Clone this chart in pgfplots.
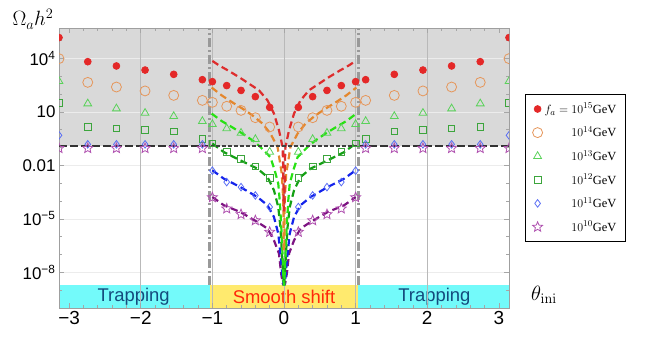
\documentclass[border=0pt]{standalone}
\usepackage{pgfplots}
\pgfplotsset{compat=1.18}
\usepackage{pgfplotstable}
\usepackage[no-math]{fontspec}
\setmainfont{Liberation Sans}
\newfontfamily\seriffont{Liberation Serif}

\definecolor{cRed}{RGB}{222,45,45}
\definecolor{cRedM}{RGB}{228,40,40}
\definecolor{cOr}{RGB}{228,135,45}
\definecolor{cOrM}{RGB}{230,150,90}
\definecolor{cLg}{RGB}{40,225,20}
\definecolor{cLgM}{RGB}{90,210,90}
\definecolor{cDg}{RGB}{20,160,20}
\definecolor{cDgM}{RGB}{60,165,60}
\definecolor{cBl}{RGB}{20,35,235}
\definecolor{cBlM}{RGB}{90,110,245}
\definecolor{cPu}{RGB}{125,20,130}
\definecolor{cPuM}{RGB}{175,80,175}
\definecolor{cShade}{RGB}{217,217,217}
\definecolor{trapc}{RGB}{115,250,250}
\definecolor{smoothc}{RGB}{255,234,110}
\definecolor{traptext}{RGB}{20,75,125}
\definecolor{smoothtext}{RGB}{255,40,10}

% open five-pointed star
\pgfdeclareplotmark{ostar}{%
  \pgfpathmoveto{\pgfqpointpolar{90}{\pgfplotmarksize}}%
  \pgfpathlineto{\pgfqpointpolar{126}{0.45\pgfplotmarksize}}%
  \pgfpathlineto{\pgfqpointpolar{162}{\pgfplotmarksize}}%
  \pgfpathlineto{\pgfqpointpolar{198}{0.45\pgfplotmarksize}}%
  \pgfpathlineto{\pgfqpointpolar{234}{\pgfplotmarksize}}%
  \pgfpathlineto{\pgfqpointpolar{270}{0.45\pgfplotmarksize}}%
  \pgfpathlineto{\pgfqpointpolar{306}{\pgfplotmarksize}}%
  \pgfpathlineto{\pgfqpointpolar{342}{0.45\pgfplotmarksize}}%
  \pgfpathlineto{\pgfqpointpolar{18}{\pgfplotmarksize}}%
  \pgfpathlineto{\pgfqpointpolar{54}{0.45\pgfplotmarksize}}%
  \pgfpathclose
  \pgfusepathqstroke
}

% markers: theta_ini, f_a = 1e15 ... 1e10 GeV
\pgfplotstableread{
x       red     orange  lg      dg      bl      pu
-3.1416 1.45e5  9550    513     32.4    0.479   0.09
-2.74   6460    447     28.8    1.41    0.15    0.09
-2.34   3720    245     15.1    1.15    0.15    0.09
-1.94   2190    148     8.51    0.955   0.15    0.09
-1.54   1260    83.2    5.62    0.813   0.15    0.09
-1.14   631     43.7    2.95    0.295   0.15    0.09
-1.0    490     33.9    2.0     0.166   5.0e-3  1.58e-4
-0.8    295     20.4    1.15    0.055   1.15e-3 3.72e-5
-0.6    158     12.0    0.646   0.0234  6.0e-4  1.78e-5
-0.4    70.8    4.68    0.288   0.0087  2.04e-4 8.1e-6
-0.2    17.8    1.41    0.0562  0.00204 4.57e-5 1.82e-6
0.2     17.8    1.41    0.0562  0.00204 4.57e-5 1.82e-6
0.4     70.8    4.68    0.288   0.0087  2.04e-4 8.1e-6
0.6     158     12.0    0.646   0.0234  6.0e-4  1.78e-5
0.8     295     20.4    1.15    0.055   1.15e-3 3.72e-5
1.0     490     33.9    2.0     0.166   5.0e-3  1.58e-4
1.14    631     43.7    2.95    0.295   0.15    0.09
1.54    1260    83.2    5.62    0.813   0.15    0.09
1.94    2190    148     8.51    0.955   0.15    0.09
2.34    3720    245     15.1    1.15    0.15    0.09
2.74    6460    447     28.8    1.41    0.15    0.09
3.1416  1.45e5  9550    513     32.4    0.479   0.09
}\marks

\begin{document}
\begin{tikzpicture}
\begin{axis}[
    set layers,
    scale only axis, width=450bp, height=280bp,
    ymode=log,
    xmin=-3.1416, xmax=3.1416, ymin=1e-10, ymax=5e5,
    xtick={-3,-2,-1,0,1,2,3},
    xticklabels={−3,−2,−1,0,1,2,3},
    minor x tick num=4,
    ytick={1e-8,1e-5,1e-2,1e1,1e4},
    yticklabels={10\textsuperscript{−8},10\textsuperscript{−5},0.01,10,10\textsuperscript{4}},
    minor ytick={1e-10,1e-9,1e-7,1e-6,1e-4,1e-3,1e-1,1,1e2,1e3,1e5},
    tick align=inside,
    major tick length=5bp, minor tick length=3bp,
    every tick/.style={gray!70, line width=0.6bp},
    axis line style={gray!75, line width=0.8bp},
    ymajorgrids, major y grid style={gray!15, line width=0.6bp},
    x tick label style={font=\fontsize{19}{22}\selectfont},
    y tick label style={font=\fontsize{17}{20}\selectfont},
    clip marker paths=true,
    legend style={at={(1,0.5)}, anchor=west, xshift=16bp, draw=black,
        line width=1.2bp, font=\seriffont\fontsize{12.5}{15}\selectfont,
        row sep=8bp, inner xsep=7bp, inner ysep=7bp},
    legend cell align=right,
]
% shaded region above 0.12 and the bands
\begin{pgfonlayer}{axis background}
\fill[cShade] (axis cs:-3.1416,0.12) rectangle (axis cs:3.1416,5e5);
\fill[trapc] (axis cs:-3.1416,1e-10) rectangle (axis cs:-1.04,2e-9);
\fill[smoothc] (axis cs:-1.04,1e-10) rectangle (axis cs:1.04,2e-9);
\fill[trapc] (axis cs:1.04,1e-10) rectangle (axis cs:3.1416,2e-9);
\node[traptext, font=\fontsize{18.5}{20}\selectfont] at (axis cs:-2.1,4.4e-10) {Trapping};
\node[traptext, font=\fontsize{18.5}{20}\selectfont] at (axis cs:2.1,4.4e-10) {Trapping};
\node[smoothtext, font=\fontsize{18.5}{20}\selectfont] at (axis cs:0,4.4e-10) {Smooth shift};
\end{pgfonlayer}
\begin{pgfonlayer}{axis grid}
\draw[gray!55, line width=0.8bp] (axis cs:-2,1e-10) -- (axis cs:-2,5e5);
\draw[gray!55, line width=0.8bp] (axis cs:-1,1e-10) -- (axis cs:-1,5e5);
\draw[gray!55, line width=0.8bp] (axis cs:0,1e-10) -- (axis cs:0,5e5);
\draw[gray!55, line width=0.8bp] (axis cs:1,1e-10) -- (axis cs:1,5e5);
\draw[gray!55, line width=0.8bp] (axis cs:2,1e-10) -- (axis cs:2,5e5);
\end{pgfonlayer}

% dashed curves
\addplot[forget plot, cPu, line width=2.2bp, dash pattern=on 7bp off 4bp] coordinates {
(-1.0,1.66e-4) (-0.84,5.75e-5) (-0.61,2.4e-5) (-0.37,6.6e-6) (-0.23,2.82e-6)
(-0.14,6.17e-7) (-0.07,1.12e-7) (-0.04,8.5e-9) (-0.015,2.2e-9) (-0.004,2e-9)
(0.004,2e-9) (0.015,2.2e-9) (0.04,8.5e-9) (0.07,1.12e-7) (0.14,6.17e-7)
(0.23,2.82e-6) (0.37,6.6e-6) (0.61,2.4e-5) (0.84,5.75e-5) (1.0,1.66e-4)};
\addplot[forget plot, cBl, line width=2.2bp, dash pattern=on 7bp off 4bp] coordinates {
(-1.0,5.25e-3) (-0.84,1.78e-3) (-0.61,6.03e-4) (-0.37,1.66e-4) (-0.23,5.75e-5)
(-0.14,1.26e-5) (-0.08,1.48e-6) (-0.05,1.12e-7) (-0.02,5e-9) (-0.004,2e-9)
(0.004,2e-9) (0.02,5e-9) (0.05,1.12e-7) (0.08,1.48e-6) (0.14,1.26e-5)
(0.23,5.75e-5) (0.37,1.66e-4) (0.61,6.03e-4) (0.84,1.78e-3) (1.0,5.25e-3)};
\addplot[forget plot, cDg, line width=2.2bp, dash pattern=on 7bp off 4bp] coordinates {
(-1.0,0.166) (-0.84,0.055) (-0.61,0.0191) (-0.37,6.46e-3) (-0.23,2.19e-3)
(-0.14,3.98e-4) (-0.08,4.57e-5) (-0.05,3.47e-6) (-0.02,3.16e-8) (-0.004,2e-9)
(0.004,2e-9) (0.02,3.16e-8) (0.05,3.47e-6) (0.08,4.57e-5) (0.14,3.98e-4)
(0.23,2.19e-3) (0.37,6.46e-3) (0.61,0.0191) (0.84,0.055) (1.0,0.166)};
\addplot[forget plot, cLg, line width=2.2bp, dash pattern=on 7bp off 4bp] coordinates {
(-1.01,7.94) (-0.87,3.02) (-0.73,1.41) (-0.58,0.603) (-0.44,0.251) (-0.33,0.107)
(-0.19,0.0288) (-0.13,5.25e-3) (-0.08,9.33e-4) (-0.06,1.10e-4) (-0.04,5.37e-6)
(-0.015,3.16e-8) (-0.004,2e-9)
(0.004,2e-9) (0.015,3.16e-8) (0.04,5.37e-6) (0.06,1.10e-4) (0.08,9.33e-4)
(0.13,5.25e-3) (0.19,0.0288) (0.33,0.107) (0.44,0.251) (0.58,0.603) (0.73,1.41)
(0.87,3.02) (1.01,7.94)};
\addplot[forget plot, cOr, line width=2.2bp, dash pattern=on 7bp off 4bp] coordinates {
(-1.01,229) (-0.87,83.2) (-0.73,35.5) (-0.58,15.1) (-0.44,6.31) (-0.30,2.19)
(-0.19,0.603) (-0.09,0.107) (-0.03,3.16e-3) (-0.01,1e-4) (-0.004,1.7e-7)
(0.004,1.7e-7) (0.01,1e-4) (0.03,3.16e-3) (0.09,0.107) (0.19,0.603)
(0.30,2.19) (0.44,6.31) (0.58,15.1) (0.73,35.5) (0.87,83.2) (1.01,229)};
\addplot[forget plot, cRed, line width=2.2bp, dash pattern=on 7bp off 4bp] coordinates {
(-1.0,7080) (-0.91,4070) (-0.77,1950) (-0.63,891) (-0.49,380) (-0.35,162)
(-0.23,43.7) (-0.14,7.94) (-0.07,0.912) (-0.02,0.107) (-0.012,0.01) (-0.004,3e-5)
(0.004,3e-5) (0.012,0.01) (0.02,0.107) (0.07,0.912) (0.14,7.94) (0.23,43.7)
(0.35,162) (0.49,380) (0.63,891) (0.77,1950) (0.91,4070) (1.0,7080)};

% abundance line 0.12 and the edges of the smooth-shift region
\draw[black!80, line width=2.6bp, dash pattern=on 8bp off 3bp] (axis cs:-3.1416,0.12) -- (axis cs:-1.04,0.12);
\draw[black!80, line width=2.6bp, dash pattern=on 8bp off 3bp] (axis cs:1.04,0.12) -- (axis cs:3.1416,0.12);
\draw[black!75, line width=2.8bp, dash pattern=on 4bp off 2bp] (axis cs:-1.04,0.12) -- (axis cs:1.04,0.12);
\draw[gray!80, line width=2.4bp, dash pattern=on 9bp off 3bp on 2bp off 3bp] (axis cs:-1.04,2e-9) -- (axis cs:-1.04,5e5);
\draw[gray!80, line width=2.4bp, dash pattern=on 9bp off 3bp on 2bp off 3bp] (axis cs:1.04,2e-9) -- (axis cs:1.04,5e5);

% markers
\addplot[only marks, mark=*, mark size=3.4bp, cRedM, line width=0.8bp] table[x=x, y=red] {\marks};
\addlegendentry{$f_a = 10^{15}$GeV}
\addplot[only marks, mark=o, mark size=5bp, cOrM, line width=0.8bp] table[x=x, y=orange] {\marks};
\addlegendentry{$10^{14}$GeV}
\addplot[only marks, mark=triangle, mark size=4.5bp, cLgM, line width=0.8bp] table[x=x, y=lg] {\marks};
\addlegendentry{$10^{13}$GeV}
\addplot[only marks, mark=square, mark size=3.3bp, cDgM, line width=0.8bp] table[x=x, y=dg] {\marks};
\addlegendentry{$10^{12}$GeV}
\addplot[only marks, mark=diamond, mark size=3.8bp, cBlM, line width=0.8bp] table[x=x, y=bl] {\marks};
\addlegendentry{$10^{11}$GeV}
\addplot[only marks, mark=ostar, mark size=5.2bp, cPuM, line width=0.8bp] table[x=x, y=pu] {\marks};
\addlegendentry{$10^{10}$GeV}

\coordinate (ll) at (rel axis cs:0,0);
\coordinate (ur) at (rel axis cs:1,1);
\end{axis}
\node[anchor=base, font=\fontsize{22}{26}\selectfont] at ([shift={(-26bp,2bp)}]ll |- ur) {$\Omega_a h^2$};
\node[anchor=base, font=\fontsize{22}{26}\selectfont] at ([shift={(35bp,8bp)}]ur |- ll) {$\theta_{\mathrm{ini}}$};
\pgfresetboundingbox
\path ([shift={(-59bp,-31bp)}]ll) rectangle ([shift={(595bp,308bp)}]ll);
\end{tikzpicture}
\end{document}
